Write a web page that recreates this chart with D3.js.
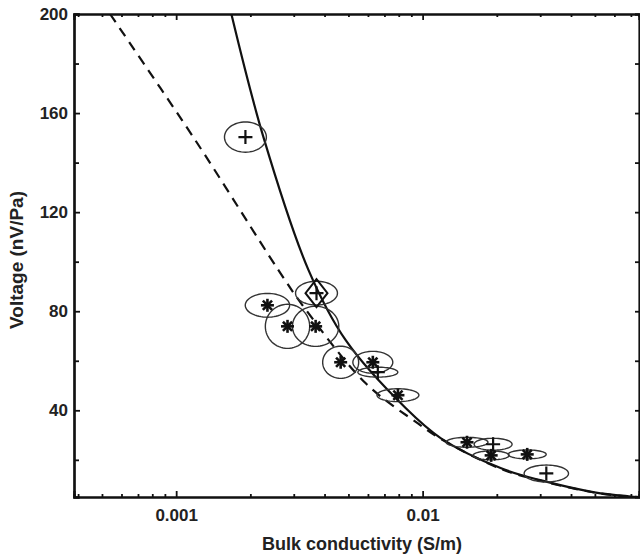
<!DOCTYPE html>
<html>
<head>
<meta charset="utf-8">
<script src="https://cdn.jsdelivr.net/npm/d3@7"></script>
<style>
  body { margin: 0; background: #fff; }
  text { font-family: "Liberation Sans", Arial, sans-serif; font-weight: bold; fill: #222; }
</style>
</head>
<body>
<div id="chart"></div>
<script>
// bulk conductivity (S/m) and voltage (nV/Pa) of the measured samples
var condX   = [0.00191, 0.00371, 0.002346, 0.00283, 0.00368, 0.00465, 0.00628, 0.00658, 0.00794, 0.01514, 0.01932, 0.01897, 0.02657, 0.03176];
var voltY   = [150.3, 87.3, 82.4, 73.9, 73.9, 59.4, 59.4, 55.4, 46.1, 27.1, 26.3, 21.8, 22.2, 14.5];
var voltErr = [6.1, 4.8, 4.8, 8.9, 8.1, 6.5, 4.4, 2.0, 2.6, 2.0, 2.4, 1.8, 1.8, 3.4];
var condErrLog = [0.085, 0.085, 0.09, 0.09, 0.094, 0.073, 0.081, 0.081, 0.085, 0.085, 0.077, 0.073, 0.077, 0.09];
var markerType = ['plus', 'diamond', 'star', 'star', 'star', 'star', 'star', 'plus', 'star', 'star', 'plus', 'star', 'star', 'plus'];

// model curves
var solidX = [0.001675, 0.00226, 0.003444, 0.004874, 0.008551, 0.01187, 0.02083, 0.0303, 0.0498, 0.06847, 0.0755];
var solidY = [200, 150.3, 96.6, 68.3, 40.8, 28.7, 16.6, 11.7, 6.9, 5.3, 5];
var dashX  = [0.000539, 0.001195, 0.0026, 0.003257, 0.005878, 0.009571, 0.01187, 0.02083, 0.0303, 0.0498, 0.06847, 0.0755];
var dashY  = [200, 149.1, 96.6, 82.4, 50.9, 34.7, 28.4, 16.3, 11.5, 6.8, 5.2, 5];

var xTicks = [0.001, 0.01];
var xTickLabels = ['0.001', '0.01'];
var yTicks = [40, 80, 120, 160, 200];
var yMinor = [20, 60, 100, 140, 180];

var W = 640, H = 557;
var mLeft = 74, mRight = 639, mTop = 14, mBottom = 497;

var x = d3.scaleLog().domain([0.000385, 0.0755]).range([mLeft, mRight]);
var y = d3.scaleLinear().domain([5, 200]).range([mBottom, mTop]);

var svg = d3.select("#chart").append("svg")
  .attr("width", W).attr("height", H);

svg.append("clipPath").attr("id", "plot")
  .append("rect").attr("x", mLeft).attr("y", mTop)
  .attr("width", mRight - mLeft).attr("height", mBottom - mTop);

var xMinor = [];
[0.0001, 0.001, 0.01].forEach(function(d) {
  for (var k = 2; k <= 9; k++) {
    var v = d * k;
    if (v > x.domain()[0] && v < x.domain()[1]) xMinor.push(v);
  }
});

// axes: ticks drawn inward on all four sides
svg.append("g").attr("transform", "translate(0," + mBottom + ")")
  .call(d3.axisBottom(x).tickValues(xTicks)
    .tickFormat(function(d, i) { return xTickLabels[i]; })
    .tickSize(-6).tickPadding(12));
svg.append("g").attr("transform", "translate(0," + mBottom + ")")
  .call(d3.axisBottom(x).tickValues(xMinor).tickFormat("").tickSize(-3));
svg.append("g").attr("transform", "translate(0," + mTop + ")")
  .call(d3.axisTop(x).tickValues(xTicks).tickFormat("").tickSize(-6));
svg.append("g").attr("transform", "translate(0," + mTop + ")")
  .call(d3.axisTop(x).tickValues(xMinor).tickFormat("").tickSize(-3));
svg.append("g").attr("transform", "translate(" + mLeft + ",0)")
  .call(d3.axisLeft(y).tickValues(yTicks).tickSize(-6).tickPadding(6));
svg.append("g").attr("transform", "translate(" + mLeft + ",0)")
  .call(d3.axisLeft(y).tickValues(yMinor).tickFormat("").tickSize(-5));
svg.append("g").attr("transform", "translate(" + mRight + ",0)")
  .call(d3.axisRight(y).tickValues(yTicks.concat(yMinor)).tickFormat("").tickSize(-4));

svg.selectAll(".domain").attr("stroke", "#111").attr("stroke-width", 2.2);
svg.selectAll(".tick line").attr("stroke", "#111").attr("stroke-width", 1.8);
svg.selectAll(".tick text").style("font-size", "17px").attr("fill", "#222");

// axis titles
svg.append("text")
  .attr("x", 362).attr("y", 550)
  .attr("text-anchor", "middle")
  .style("font-size", "18px")
  .text("Bulk conductivity (S/m)");
svg.append("text")
  .attr("transform", "translate(23,260) rotate(-90)")
  .attr("text-anchor", "middle")
  .style("font-size", "19px")
  .text("Voltage (nV/Pa)");

var g = svg.append("g").attr("clip-path", "url(#plot)");

var line = d3.line()
  .x(function(d) { return x(d[0]); })
  .y(function(d) { return y(d[1]); })
  .curve(d3.curveCatmullRom.alpha(0.5));

g.append("path")
  .datum(d3.zip(dashX, dashY))
  .attr("d", line)
  .attr("fill", "none").attr("stroke", "#111")
  .attr("stroke-width", 2.2).attr("stroke-dasharray", "10,7");

g.append("path")
  .datum(d3.zip(solidX, solidY))
  .attr("d", line)
  .attr("fill", "none").attr("stroke", "#111")
  .attr("stroke-width", 2.2);

// uncertainty ellipses, sampled in log-x / linear-y space
var pts = condX.map(function(cx, i) {
  return { x: cx, y: voltY[i], dy: voltErr[i], dl: condErrLog[i], type: markerType[i] };
});

g.selectAll(".ell")
  .data(pts)
  .enter().append("path")
  .attr("class", "ell")
  .attr("d", function(p) {
    var ring = d3.range(0, 65).map(function(k) {
      var t = k / 64 * 2 * Math.PI;
      return [x(p.x * Math.pow(10, p.dl * Math.cos(t))), y(p.y + p.dy * Math.sin(t))];
    });
    return d3.line()(ring) + "Z";
  })
  .attr("fill", "none").attr("stroke", "#333").attr("stroke-width", 1.4);

// markers
var mk = g.selectAll(".mk")
  .data(pts)
  .enter().append("g")
  .attr("class", "mk")
  .attr("transform", function(p) { return "translate(" + x(p.x) + "," + y(p.y) + ")"; });

mk.each(function(p) {
  var s = d3.select(this);
  if (p.type === 'star') {
    [0, 45, 90, 135].forEach(function(a) {
      var r = a * Math.PI / 180, L = 6.5;
      s.append("line")
        .attr("x1", -L * Math.cos(r)).attr("y1", -L * Math.sin(r))
        .attr("x2", L * Math.cos(r)).attr("y2", L * Math.sin(r))
        .attr("stroke", "#111").attr("stroke-width", 2.6);
    });
  } else {
    if (p.type === 'diamond') {
      s.append("path").attr("d", "M0,-14L11,0L0,14L-11,0Z")
        .attr("fill", "none").attr("stroke", "#111").attr("stroke-width", 2);
    }
    s.append("path").attr("d", "M-7,0H7M0,-7V7")
      .attr("stroke", "#111").attr("stroke-width", 2.2);
  }
});
</script>
</body>
</html>
